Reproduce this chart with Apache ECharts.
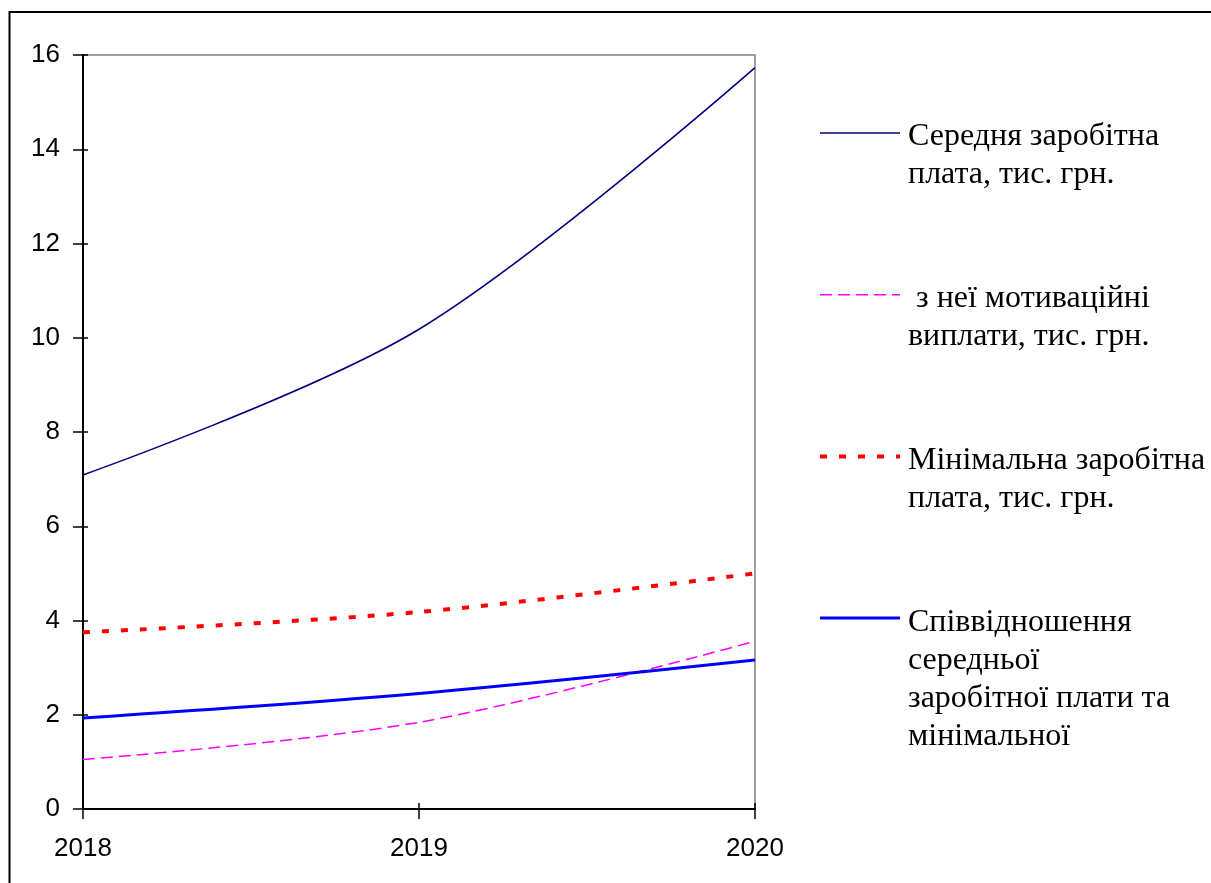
<!DOCTYPE html>
<html>
<head>
<meta charset="utf-8">
<title>Заробітна плата, 2018–2020</title>
<script src="https://cdn.jsdelivr.net/npm/echarts@6/dist/echarts.min.js"></script>
<style>
  html, body { margin: 0; padding: 0; background: #ffffff; }
  #chart { width: 1211px; height: 883px; }
</style>
</head>
<body>
<div id="chart"></div>
<script>
// Years on the horizontal axis
const years = ['2018', '2019', '2020'];

// Series values, thousand UAH (ratio is dimensionless)
const avgWage = [7.09, 10.18, 15.73];
const incentivePay = [1.05, 1.84, 3.56];
const minWage = [3.75, 4.18, 5.0];
const wageRatio = [1.93, 2.45, 3.16];

// Legend / series names
const seriesNames = [
  'Середня заробітна\nплата, тис. грн.',
  ' з неї мотиваційні\nвиплати, тис. грн.',
  'Мінімальна заробітна\nплата, тис. грн.',
  'Співвідношення\nсередньої\nзаробітної плати та\nмінімальної'
];

// Vertical axis ticks
const yMin = 0, yMax = 16, yStep = 2;

// Line look of each series (shared by the plot and the legend key)
const lineStyles = [
  { color: '#000080', width: 1.6, dash: null },
  { color: '#ff00ff', width: 1.5, dash: [12, 6] },
  { color: '#ff0000', width: 4, dash: [7, 12] },
  { color: '#0000ff', width: 3, dash: null }
];
const seriesData = [avgWage, incentivePay, minWage, wageRatio];

const chart = echarts.init(document.getElementById('chart'), null, { renderer: 'canvas' });

const axisFont = { fontFamily: 'Liberation Sans, Arial, sans-serif', fontSize: 26, color: '#000' };

// Legend key drawn at the right of the plot: a line sample followed by the wrapped name
const KEY_X = 820, KEY_LEN = 80, KEY_Y0 = 133, KEY_STEP = 161.7, TEXT_X = 908, LINE_H = 38;
const legendGraphics = [];
seriesNames.forEach((name, i) => {
  const st = lineStyles[i];
  const y = KEY_Y0 + i * KEY_STEP;
  legendGraphics.push({
    type: 'line',
    shape: { x1: KEY_X, y1: y, x2: KEY_X + KEY_LEN, y2: y },
    style: { stroke: st.color, lineWidth: st.width, lineDash: st.dash, lineCap: 'butt' },
    silent: true
  });
  legendGraphics.push({
    type: 'text',
    x: TEXT_X, y: y - 15,
    style: {
      text: name,
      font: '32px "Liberation Serif", "Times New Roman", serif',
      lineHeight: LINE_H,
      fill: '#000',
      align: 'left',
      verticalAlign: 'top'
    },
    silent: true
  });
});

chart.setOption({
  animation: false,
  backgroundColor: '#ffffff',
  graphic: [{
    // outer frame of the figure
    type: 'rect',
    shape: { x: 9.5, y: 12, width: 1400, height: 1000 },
    style: { fill: 'none', stroke: '#000', lineWidth: 2 },
    silent: true,
    z: 100
  }].concat(legendGraphics),
  grid: {
    left: 83, right: 456, top: 55, bottom: 74,
    show: true, borderColor: '#808080', borderWidth: 1.5,
    backgroundColor: 'transparent'
  },
  xAxis: [{
    type: 'category', data: years, boundaryGap: false,
    axisLine: { lineStyle: { color: '#000', width: 2 } },
    axisTick: { show: true, length: 10, lineStyle: { color: '#000', width: 1.5 } },
    axisLabel: Object.assign({ margin: 27 }, axisFont),
    splitLine: { show: false }
  }, {
    type: 'category', data: years, boundaryGap: false, position: 'bottom',
    axisLine: { show: false },
    axisTick: { show: true, inside: true, length: 6, lineStyle: { color: '#000', width: 1.5 } },
    axisLabel: { show: false },
    splitLine: { show: false }
  }],
  yAxis: [{
    type: 'value', min: yMin, max: yMax, interval: yStep,
    axisLine: { show: true, lineStyle: { color: '#000', width: 2 } },
    axisTick: { show: true, length: 10, lineStyle: { color: '#000', width: 1.5 } },
    axisLabel: Object.assign({ margin: 23 }, axisFont),
    splitLine: { show: false }
  }, {
    type: 'value', min: yMin, max: yMax, interval: yStep, position: 'left',
    axisLine: { show: false },
    axisTick: { show: true, inside: true, length: 5, lineStyle: { color: '#000', width: 1.5 } },
    axisLabel: { show: false },
    splitLine: { show: false }
  }],
  series: seriesNames.map((name, i) => ({
    name,
    type: 'line',
    data: seriesData[i],
    smooth: 0.33,
    symbol: 'none',
    color: lineStyles[i].color,
    lineStyle: {
      color: lineStyles[i].color,
      width: lineStyles[i].width,
      type: lineStyles[i].dash || 'solid',
      cap: 'butt'
    }
  }))
});
</script>
</body>
</html>
